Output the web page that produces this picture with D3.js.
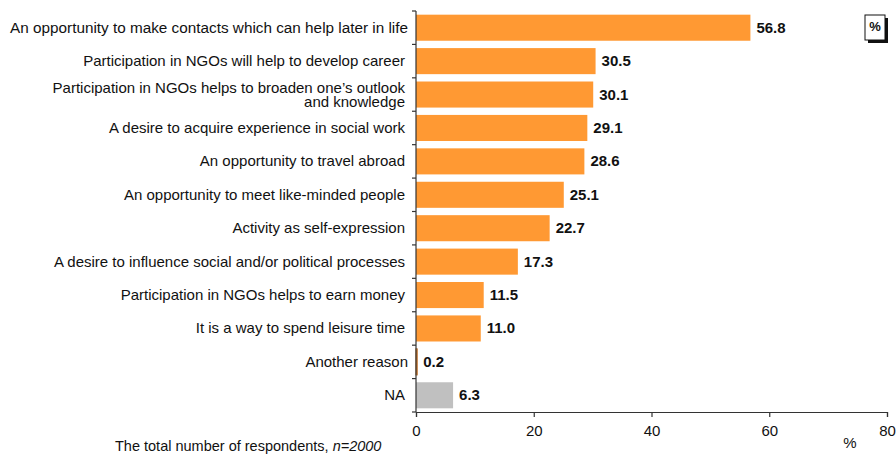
<!DOCTYPE html>
<meta charset="utf-8">
<style>
  body { margin: 0; background: #fff; }
  text { font-family: "Liberation Sans", Arial, sans-serif; }
</style>
<script src="https://d3js.org/d3.v7.min.js"></script>
<svg id="chart" width="896" height="455"></svg>
<script>
  // categories, top to bottom
  var reasons = [
    ["An opportunity to make contacts which can help later in life"],
    ["Participation in NGOs will help to develop career"],
    ["Participation in NGOs helps to broaden one\u2019s outlook", "and knowledge"],
    ["A desire to acquire experience in social work"],
    ["An opportunity to travel abroad"],
    ["An opportunity to meet like-minded people"],
    ["Activity as self-expression"],
    ["A desire to influence social and/or political processes"],
    ["Participation in NGOs helps to earn money"],
    ["It is a way to spend leisure time"],
    ["Another reason"],
    ["NA"]
  ];
  var shares = [56.8, 30.5, 30.1, 29.1, 28.6, 25.1, 22.7, 17.3, 11.5, 11.0, 0.2, 6.3];
  var xTicks = [0, 20, 40, 60, 80];

  var svg = d3.select("#chart");
  var plotLeft = 416, plotRight = 887, plotTop = 11, plotBottom = 412;
  var fs = 15;

  var x = d3.scaleLinear().domain([0, 80]).range([plotLeft, plotRight]);
  var y = d3.scaleBand()
    .domain(d3.range(reasons.length))
    .range([plotTop, plotBottom])
    .paddingInner(0.22)
    .paddingOuter(0.11);

  // bars
  svg.append("g")
    .selectAll("rect")
    .data(shares)
    .enter()
    .append("rect")
    .attr("x", x(0))
    .attr("y", (d, i) => y(i))
    .attr("width", d => x(d) - x(0))
    .attr("height", y.bandwidth())
    .attr("fill", (d, i) => reasons[i][0] === "NA" ? "#c0c0c0" : "#ff9933")
    .attr("stroke", (d, i) => reasons[i][0] === "Another reason" ? "#b5651d" : "none")
    .attr("stroke-width", 1);

  // value labels
  svg.append("g")
    .selectAll("text")
    .data(shares)
    .enter()
    .append("text")
    .attr("x", d => x(d) + 6)
    .attr("y", (d, i) => y(i) + y.bandwidth() / 2 + 5)
    .attr("font-size", fs)
    .attr("font-weight", "bold")
    .attr("fill", "#111")
    .text(d => d.toFixed(1));

  // category labels
  var labels = svg.append("g");
  reasons.forEach(function(lines, i) {
    var cy = y(i) + y.bandwidth() / 2;
    var t = labels.append("text")
      .attr("text-anchor", "end")
      .attr("font-size", i === 0 ? 15.3 : fs)
      .attr("fill", "#111");
    lines.forEach(function(line, j) {
      var offset = (j - (lines.length - 1) / 2) * 14;
      t.append("tspan")
        .attr("x", (i === 0 || reasons[i][0] === "Another reason") ? 408 : 405)
        .attr("y", cy + offset + 5)
        .text(line);
    });
  });

  // y axis line with ticks at band boundaries
  var yAxis = svg.append("g").attr("stroke", "#333").attr("stroke-width", 1.2);
  yAxis.append("line")
    .attr("x1", plotLeft).attr("x2", plotLeft)
    .attr("y1", plotTop).attr("y2", plotBottom);
  yAxis.selectAll(".yt")
    .data(d3.range(reasons.length + 1))
    .enter()
    .append("line")
    .attr("x1", plotLeft - 4).attr("x2", plotLeft)
    .attr("y1", i => plotTop + i * (plotBottom - plotTop) / reasons.length)
    .attr("y2", i => plotTop + i * (plotBottom - plotTop) / reasons.length);

  // x axis
  var xAxis = svg.append("g")
    .attr("transform", "translate(0," + plotBottom + ")")
    .call(d3.axisBottom(x).tickValues(xTicks).tickSize(5).tickPadding(8));
  xAxis.select(".domain").attr("stroke", "#333").attr("stroke-width", 1.2);
  xAxis.selectAll(".tick line").attr("stroke", "#333").attr("stroke-width", 1.2);
  xAxis.selectAll(".tick text")
    .attr("font-family", "Liberation Sans, Arial, sans-serif")
    .attr("font-size", fs)
    .attr("fill", "#111");

  // unit below axis
  svg.append("text")
    .attr("x", 850).attr("y", 448)
    .attr("text-anchor", "middle")
    .attr("font-size", fs)
    .attr("fill", "#111")
    .text("%");

  // boxed % marker top right
  svg.append("rect").attr("x", 868).attr("y", 18).attr("width", 20).attr("height", 25).attr("fill", "#111");
  svg.append("rect").attr("x", 865).attr("y", 15).attr("width", 20).attr("height", 25)
    .attr("fill", "#fff").attr("stroke", "#111").attr("stroke-width", 1);
  svg.append("text")
    .attr("x", 875).attr("y", 31)
    .attr("text-anchor", "middle")
    .attr("font-size", 13)
    .attr("font-weight", "bold")
    .attr("fill", "#111")
    .text("%");

  // footnote
  var note = svg.append("text")
    .attr("x", 115).attr("y", 451)
    .attr("font-size", 14.5)
    .attr("fill", "#111");
  note.append("tspan").text("The total number of respondents, ");
  note.append("tspan").attr("font-style", "italic").text("n=2000");
</script>
